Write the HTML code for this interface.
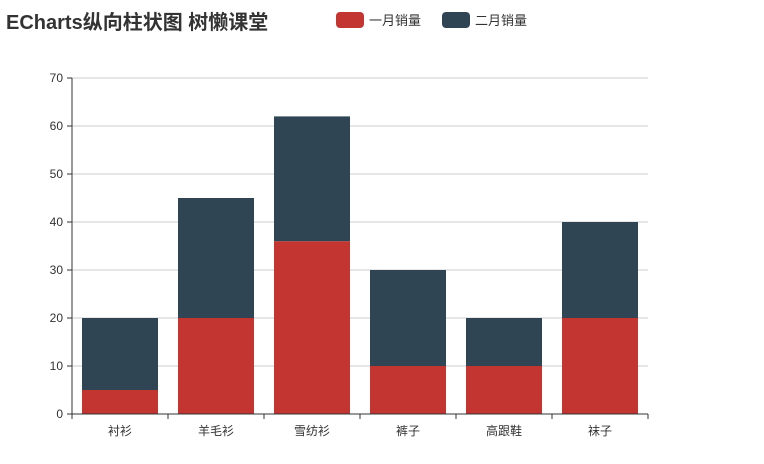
<!DOCTYPE html>
<html><head><meta charset="utf-8"><style>
body{margin:0;background:#fff;}
svg{display:block;font-family:"Liberation Sans","Noto Sans CJK SC",sans-serif;}
</style></head><body>
<svg id="chart" width="764" height="464" xmlns="http://www.w3.org/2000/svg">
<text x="6" y="29" font-size="20" font-weight="bold" fill="#333">ECharts纵向柱状图 树懒课堂</text>
<g>
<g><rect x="336" y="12" width="28" height="16" rx="4" fill="#c23531"/><text x="369" y="25" font-size="13" fill="#333">一月销量</text></g>
<g><rect x="442" y="12" width="28" height="16" rx="4" fill="#2f4554"/><text x="475" y="25" font-size="13" fill="#333">二月销量</text></g>
</g>
<g id="grid"></g>
<g id="bars"></g>
<g id="axes"></g>
</svg>
<script>
const categories=["衬衫","羊毛衫","雪纺衫","裤子","高跟鞋","袜子"];
const janValues=[5,20,36,10,10,20];
const febValues=[15,25,26,20,10,20];
const yTicks=[0,10,20,30,40,50,60,70];
const NS="http://www.w3.org/2000/svg";
const x0=72,x1=648,yb=414,yt=78,ymax=70;
const y=v=>yb-(v/ymax)*(yb-yt);
const bw=(x1-x0)/categories.length;
function mk(tag,attrs,parent,text){const e=document.createElementNS(NS,tag);for(const k in attrs)e.setAttribute(k,attrs[k]);if(text!==undefined)e.textContent=text;parent.appendChild(e);return e;}
const grid=document.getElementById('grid'),bars=document.getElementById('bars'),axes=document.getElementById('axes');
yTicks.forEach(t=>{
  if(t>0){const l=mk('line',{x1:x0,x2:x1,y1:y(t),y2:y(t),stroke:'#ccc'},grid);
  
  }
  const tk=mk('line',{x1:x0-5,x2:x0,y1:y(t),y2:y(t),stroke:'#333'},axes);
  
  
  const tx=mk('text',{x:x0-9,y:y(t)+4,'text-anchor':'end','font-size':12,fill:'#333'},axes,t);
  
  
});
categories.forEach((c,i)=>{
  const bx=x0+i*bw+10,w=bw-20;
  const r1=mk('rect',{x:bx,y:y(janValues[i]),width:w,height:yb-y(janValues[i]),fill:'#c23531'},bars);
  
  
  const top=janValues[i]+febValues[i];
  const r2=mk('rect',{x:bx,y:y(top),width:w,height:y(janValues[i])-y(top),fill:'#2f4554'},bars);
  
  
  const tx=mk('text',{x:x0+i*bw+bw/2,y:yb+21,'text-anchor':'middle','font-size':12,fill:'#333'},axes,c);
  
  
});
for(let i=0;i<=categories.length;i++){
  const tk=mk('line',{x1:x0+i*bw,x2:x0+i*bw,y1:yb,y2:yb+5,stroke:'#333'},axes);
  
  
}
const ya=mk('line',{x1:x0,x2:x0,y1:yt,y2:yb,stroke:'#333'},axes);


const xa=mk('line',{x1:x0,x2:x1,y1:yb,y2:yb,stroke:'#333'},axes);


</script>
</body></html>
